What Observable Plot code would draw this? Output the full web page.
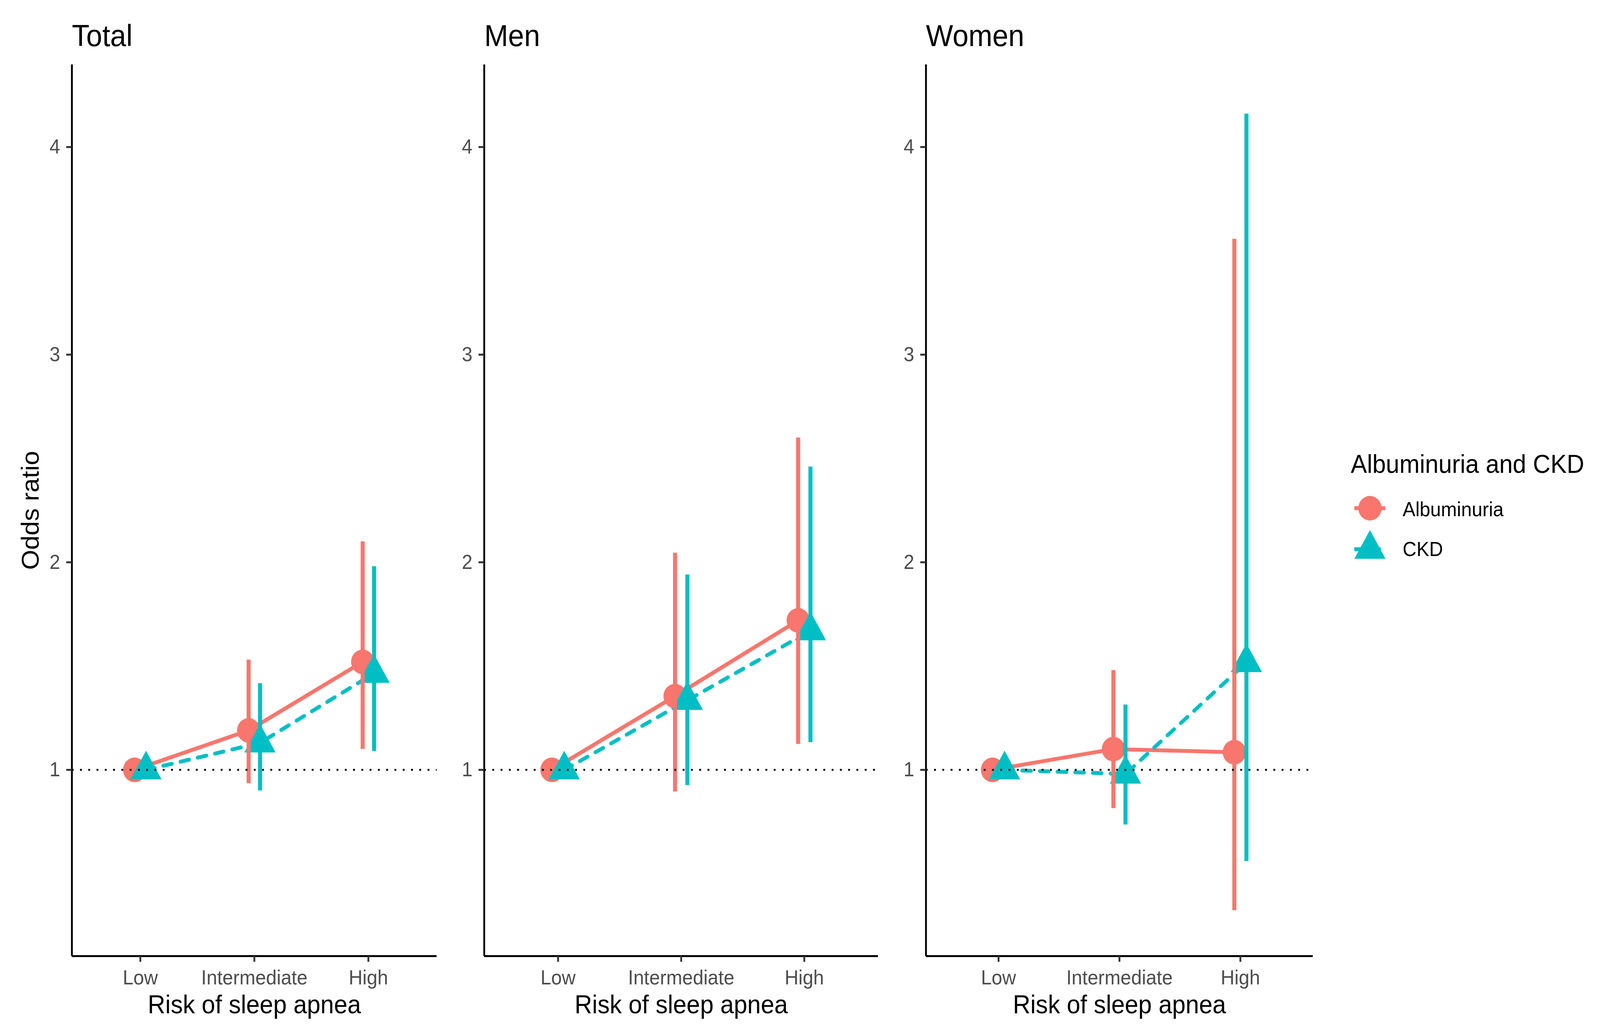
<!DOCTYPE html>
<html>
<head>
<meta charset="utf-8">
<script src="https://cdn.jsdelivr.net/npm/d3@7"></script>
<script src="https://cdn.jsdelivr.net/npm/@observablehq/plot@0.6"></script>
<style>
html, body { margin: 0; padding: 0; background: #fff; overflow: hidden; }
#outer { position: relative; overflow: hidden; background: #fff; }
#chart { position: absolute; left: 0; top: 0; width: 4350px; height: 2648px; background: #fff; font-family: "Liberation Sans", Arial, sans-serif; transform-origin: 0 0; }
#chart svg { position: absolute; top: 0; }
</style>
</head>
<body>
<div id="outer"><div id="chart"></div></div>
<script>
// ---------- data ----------
const categories = ["Low", "Intermediate", "High"];
const panels = ["Total", "Men", "Women"];
const seriesNames = ["Albuminuria", "CKD"];
const yTicks = [1, 2, 3, 4];
const xTitle = "Risk of sleep apnea";
const yTitle = "Odds ratio";
const legendTitle = "Albuminuria and CKD";

// Total
const totalAlbOR = [1, 1.19, 1.52];
const totalAlbLo = [null, 0.935, 1.10];
const totalAlbHi = [null, 1.53, 2.10];
const totalCkdOR = [1, 1.13, 1.465];
const totalCkdLo = [null, 0.90, 1.09];
const totalCkdHi = [null, 1.417, 1.98];
// Men
const menAlbOR = [1, 1.355, 1.72];
const menAlbLo = [null, 0.895, 1.124];
const menAlbHi = [null, 2.045, 2.60];
const menCkdOR = [1, 1.335, 1.67];
const menCkdLo = [null, 0.926, 1.133];
const menCkdHi = [null, 1.94, 2.46];
// Women
const womenAlbOR = [1, 1.10, 1.085];
const womenAlbLo = [null, 0.815, 0.323];
const womenAlbHi = [null, 1.48, 3.557];
const womenCkdOR = [1, 0.98, 1.517];
const womenCkdLo = [null, 0.736, 0.56];
const womenCkdHi = [null, 1.314, 4.16];

const source = {
  Total: {Albuminuria: [totalAlbOR, totalAlbLo, totalAlbHi], CKD: [totalCkdOR, totalCkdLo, totalCkdHi]},
  Men: {Albuminuria: [menAlbOR, menAlbLo, menAlbHi], CKD: [menCkdOR, menCkdLo, menCkdHi]},
  Women: {Albuminuria: [womenAlbOR, womenAlbLo, womenAlbHi], CKD: [womenCkdOR, womenCkdLo, womenCkdHi]}
};

const rows = [];
for (const p of panels) {
  for (const s of seriesNames) {
    const [or, lo, hi] = source[p][s];
    categories.forEach((c, i) => rows.push({panel: p, series: s, cat: i + 1, or: or[i], lo: lo[i], hi: hi[i]}));
  }
}

// ---------- styling / layout ----------
const W = 4350, H = 2648, MT = 165, MB = 200;
const colors = ["#F8766D", "#00BFC4"];
const symbols = ["circle", "triangle"];
const dodge = {Albuminuria: -0.05, CKD: 0.05};
const xDomain = [0.4, 3.6];
const yDomain = [0.103, 4.397];
const layout = [
  {name: "Total", left: 0, marginLeft: 195, width: 1207},
  {name: "Men", left: 1216, marginLeft: 100, width: 1191},
  {name: "Women", left: 2417, marginLeft: 100, width: 1172}
];
const font = "Liberation Sans, Arial, sans-serif";
const xPos = d => d.cat + dodge[d.series];

const chart = document.getElementById("chart");
const outer = document.getElementById("outer");
// fit the fixed-size drawing to the actual viewport
const sx = (window.innerWidth || W) / W;
const sy = (window.innerHeight || H) / H;
chart.style.transform = `scale(${sx}, ${sy})`;
outer.style.width = (W * sx) + "px";
outer.style.height = (H * sy) + "px";

for (const L of layout) {
  const data = rows.filter(d => d.panel === L.name);
  const marks = [
    Plot.line(data.filter(d => d.series === "Albuminuria"), {x: xPos, y: "or", stroke: "series", strokeWidth: 10}),
    Plot.line(data.filter(d => d.series === "CKD"), {x: xPos, y: "or", stroke: "series", strokeWidth: 10, strokeDasharray: "24,24"}),
    Plot.dot(data, {x: xPos, y: "or", fill: "series", symbol: "series", r: 31.5}),
    Plot.ruleX(data.filter(d => d.lo != null), {x: xPos, y1: "lo", y2: "hi", stroke: "series", strokeWidth: 11}),
    Plot.ruleY([1], {stroke: "black", strokeWidth: 5, strokeDasharray: "5,17.5"}),
    Plot.ruleY([yDomain[0]], {stroke: "black", strokeWidth: 5}),
    Plot.ruleX([xDomain[0]], {stroke: "black", strokeWidth: 5}),
    Plot.axisX({ticks: [1, 2, 3], tickFormat: d => categories[d - 1], tickSize: 15, tickPadding: 21, fontSize: 52, strokeWidth: 5, stroke: "#333333", fill: "#4D4D4D", label: null}),
    Plot.axisY({ticks: yTicks, tickFormat: d => String(d), tickSize: 15, tickPadding: 17, fontSize: 52, strokeWidth: 5, stroke: "#333333", fill: "#4D4D4D", label: null}),
    Plot.text([L.name], {text: d => d, frameAnchor: "top-left", dy: -48, textAnchor: "start", lineAnchor: "bottom", fontSize: 78, fill: "black"}),
    Plot.text([xTitle], {text: d => d, frameAnchor: "bottom", dy: 146, textAnchor: "middle", lineAnchor: "bottom", fontSize: 66, fill: "black"})
  ];
  if (L.name === "Total") {
    marks.push(Plot.text([yTitle], {text: d => d, frameAnchor: "left", dx: -112, rotate: -90, textAnchor: "middle", lineAnchor: "middle", fontSize: 66, fill: "black"}));
  }
  const svg = Plot.plot({
    width: L.width,
    height: H,
    marginTop: MT,
    marginBottom: MB,
    marginLeft: L.marginLeft,
    marginRight: 20,
    style: {background: "transparent", overflow: "visible", fontFamily: font},
    x: {domain: xDomain},
    y: {domain: yDomain},
    color: {domain: seriesNames, range: colors},
    symbol: {domain: seriesNames, range: symbols},
    marks
  });
  svg.style.left = L.left + "px";
  chart.appendChild(svg);
}

// ---------- legend ----------
const legend = Plot.plot({
  width: 750,
  height: 400,
  margin: 0,
  style: {background: "transparent", overflow: "visible", fontFamily: font},
  x: {type: "identity", axis: null},
  y: {type: "identity", axis: null},
  color: {domain: seriesNames, range: colors},
  symbol: {domain: seriesNames, range: symbols},
  marks: [
    Plot.text([legendTitle], {text: d => d, frameAnchor: "top-left", dx: 72, dy: 110, textAnchor: "start", lineAnchor: "bottom", fontSize: 66, fill: "black"}),
    Plot.ruleY([seriesNames[0]], {y: () => 201, x1: 82, x2: 166, stroke: d => d, strokeWidth: 10}),
    Plot.ruleY([seriesNames[1]], {y: () => 306, x1: 82, x2: 166, stroke: d => d, strokeWidth: 10, strokeDasharray: "24,24"}),
    Plot.dot(seriesNames, {x: () => 124, y: (d, i) => 201 + i * 105, fill: d => d, symbol: d => d, r: 31.5}),
    Plot.text(seriesNames, {x: () => 213, y: (d, i) => 221 + i * 102, text: d => d, textAnchor: "start", lineAnchor: "bottom", fontSize: 52, fill: "black"})
  ]
});
legend.style.left = "3600px";
legend.style.top = "1100px";
chart.appendChild(legend);
</script>
</body>
</html>
